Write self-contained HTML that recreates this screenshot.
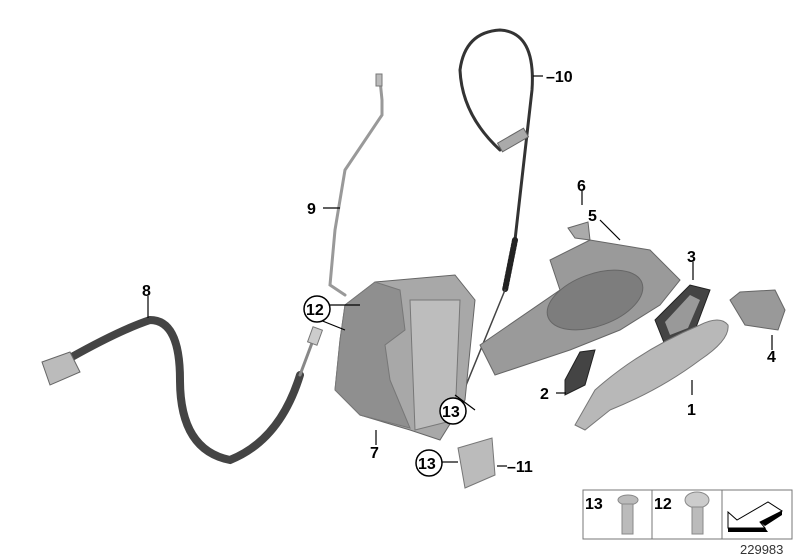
<!DOCTYPE html>
<html><head><style>
html,body{margin:0;padding:0;background:#fff;}
svg{display:block;}
text{font-family:"Liberation Sans",sans-serif;font-weight:bold;font-size:16px;fill:#000;}
</style></head><body>
<svg width="800" height="560" viewBox="0 0 800 560" xmlns="http://www.w3.org/2000/svg">
<g fill="none" stroke="#333" stroke-linecap="round">
<!-- cable 10 -->
<path d="M500 150 Q462 115 460 70 Q465 32 500 30 Q536 32 532 90 L515 240" stroke="#333" stroke-width="3"/>
<path d="M515 240 L505 290" stroke="#222" stroke-width="6" stroke-dasharray="2 2"/>
<path d="M505 290 L458 405" stroke="#444" stroke-width="1.5"/>
<!-- rod 9 -->
<path d="M380 80 L382 100 L382 115 L345 170 L335 230 L330 285 L345 295" stroke="#999" stroke-width="3"/>
<!-- cable 8 -->
<path d="M70 358 Q120 330 150 320 Q180 320 180 380 Q180 450 230 460 Q280 440 300 375" stroke="#444" stroke-width="8"/>
<path d="M300 375 L315 335" stroke="#888" stroke-width="3"/>
</g>
<path d="M42 362 L70 352 L80 372 L50 385 Z" fill="#bbb" stroke="#666"/>
<rect x="310" y="328" width="10" height="16" fill="#ccc" stroke="#777" transform="rotate(20 315 336)"/>
<rect x="376" y="74" width="6" height="12" fill="#bbb" stroke="#777"/>
<rect x="498" y="135" width="30" height="10" fill="#aaa" stroke="#666" transform="rotate(-30 513 140)"/>
<!-- lock 7 -->
<path d="M345 305 L375 282 L455 275 L475 300 L465 400 L440 440 L410 430 L360 415 L335 390 L340 340 Z" fill="#a8a8a8" stroke="#666"/>
<path d="M345 305 L375 282 L400 290 L405 330 L385 345 L390 380 L410 428 L360 415 L335 390 L340 340 Z" fill="#8f8f8f" stroke="#777"/>
<path d="M410 300 L460 300 L455 420 L415 430 Z" fill="#bdbdbd" stroke="#777"/>
<!-- bracket 5 -->
<path d="M480 345 L560 290 L550 260 L590 240 L650 250 L680 280 L660 305 L620 330 L570 350 L540 360 L495 375 Z" fill="#9a9a9a" stroke="#666"/>
<ellipse cx="595" cy="300" rx="50" ry="26" transform="rotate(-20 595 300)" fill="#7d7d7d" stroke="#666"/>
<path d="M568 228 L588 222 L590 240 L575 238 Z" fill="#aaa" stroke="#666"/>
<!-- gasket 3 -->
<path d="M655 320 L690 285 L710 290 L695 330 L665 345 Z" fill="#444" stroke="#222"/>
<path d="M665 322 L690 295 L700 300 L688 328 L670 335 Z" fill="#999"/>
<!-- 4 cap -->
<path d="M730 300 L740 292 L775 290 L785 310 L778 330 L745 325 Z" fill="#999" stroke="#666"/>
<!-- handle 1 -->
<path d="M595 390 Q640 350 700 325 Q720 315 728 325 Q730 340 700 360 Q660 390 610 410 L585 430 L575 425 Z" fill="#b8b8b8" stroke="#777"/>
<!-- gasket 2 -->
<path d="M565 380 L580 352 L595 350 L585 385 L565 395 Z" fill="#444" stroke="#222"/>
<!-- 11 -->
<path d="M458 448 L492 438 L495 475 L465 488 Z" fill="#bbb" stroke="#777"/>
<g stroke="#000" stroke-width="1.2" fill="none">
<line x1="543" y1="76" x2="533" y2="76"/>
<line x1="323" y1="208" x2="340" y2="208"/>
<line x1="148" y1="296" x2="148" y2="318"/>
<line x1="317" y1="305" x2="360" y2="305"/><line x1="315" y1="318" x2="345" y2="330"/>
<line x1="455" y1="395" x2="475" y2="410"/>
<line x1="376" y1="430" x2="376" y2="445"/>
<line x1="497" y1="466" x2="507" y2="466"/><line x1="442" y1="462" x2="458" y2="462"/>
<line x1="582" y1="191" x2="582" y2="205"/>
<line x1="600" y1="220" x2="620" y2="240"/>
<line x1="693" y1="262" x2="693" y2="280"/>
<line x1="772" y1="335" x2="772" y2="350"/>
<line x1="692" y1="395" x2="692" y2="380"/>
<line x1="556" y1="393" x2="566" y2="393"/>
</g>
<circle cx="317" cy="309" r="13" fill="#fff" stroke="#000" stroke-width="1.5"/>
<circle cx="453" cy="411" r="13" fill="#fff" stroke="#000" stroke-width="1.5"/>
<circle cx="429" cy="463" r="13" fill="#fff" stroke="#000" stroke-width="1.5"/>
<text x="546" y="82">–10</text>
<text x="307" y="214">9</text>
<text x="142" y="296">8</text>
<text x="306" y="315">12</text>
<text x="442" y="417">13</text>
<text x="418" y="469">13</text>
<text x="370" y="458">7</text>
<text x="507" y="472">–11</text>
<text x="577" y="191">6</text>
<text x="588" y="221">5</text>
<text x="687" y="262">3</text>
<text x="767" y="362">4</text>
<text x="687" y="415">1</text>
<text x="540" y="399">2</text>
<rect x="583" y="490" width="209" height="49" fill="#fff" stroke="#777"/>
<line x1="652" y1="490" x2="652" y2="539" stroke="#777"/>
<line x1="722" y1="490" x2="722" y2="539" stroke="#777"/>
<text x="585" y="509">13</text>
<text x="654" y="509">12</text>
<ellipse cx="628" cy="500" rx="10" ry="5" fill="#bbb" stroke="#888"/>
<rect x="622" y="504" width="11" height="30" fill="#bbb" stroke="#888"/>
<ellipse cx="697" cy="500" rx="12" ry="8" fill="#ccc" stroke="#888"/>
<rect x="692" y="507" width="11" height="27" fill="#bbb" stroke="#888"/>
<path d="M728 512 L737 520 L768 502 L782 511 L760 522 L765 528 L728 528 Z" fill="#fff" stroke="#000"/>
<path d="M728 528 L765 528 L768 532 L728 532 Z" fill="#000"/>
<path d="M760 522 L782 511 L782 515 L765 526 Z" fill="#000"/>
<text x="740" y="554" style="font-weight:normal;font-size:13px;fill:#333">229983</text>
</svg>
</body></html>
